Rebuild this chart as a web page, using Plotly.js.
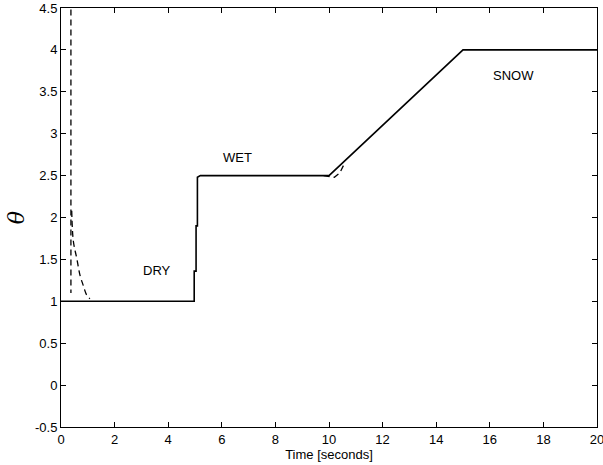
<!DOCTYPE html>
<html><head><meta charset="utf-8">
<script src="https://cdn.plot.ly/plotly-3.0.1.min.js"></script>
<style>html,body{margin:0;padding:0;background:#fff}</style>
</head><body><div id="chart" style="width:603px;height:465px"></div>
<script>
// Solid trace: actual theta
const solidX = [0, 4.97, 4.97, 5.04, 5.04, 5.09, 5.09, 5.2, 10, 15, 20];
const solidY = [1, 1, 1.36, 1.36, 1.9, 1.9, 2.48, 2.5, 2.5, 4, 4];
// Dashed trace: estimate (initial spike)
const dashVX = [0.37, 0.37];
const dashVY = [4.6, 1.1];
const dashCX = [0.40, 0.46, 0.59, 0.71, 0.83, 0.95, 1.08];
const dashCY = [2.08, 1.72, 1.51, 1.31, 1.19, 1.08, 1.03];
// Dashed trace near t = 10
const dash2X = [9.8, 10.2, 10.4, 10.6];
const dash2Y = [2.5, 2.48, 2.53, 2.66];
// Annotations
const labels = ["DRY", "WET", "SNOW"];
const labelX = [3.6, 6.6, 16.9];
const labelY = [1.37, 2.72, 3.7];
// Ticks
const xTicks = [0, 2, 4, 6, 8, 10, 12, 14, 16, 18, 20];
const yTicks = [-0.5, 0, 0.5, 1, 1.5, 2, 2.5, 3, 3.5, 4, 4.5];
const yTickText = ["-0.5", "0", "0.5", "1", "1.5", "2", "2.5", "3", "3.5", "4", "4.5"];

const dashStyle = {color: "#000", width: 1.3, dash: "6px,4px"};
const traces = [
  {x: solidX, y: solidY, mode: "lines", line: {color: "#000", width: 1.6}, hoverinfo: "skip"},
  {x: dashVX, y: dashVY, mode: "lines", line: dashStyle, hoverinfo: "skip"},
  {x: dashCX, y: dashCY, mode: "lines", line: Object.assign({shape: "spline"}, dashStyle), hoverinfo: "skip"},
  {x: dash2X, y: dash2Y, mode: "lines", line: dashStyle, hoverinfo: "skip"}
];

const axisCommon = {
  showgrid: false, zeroline: false, showline: true, linecolor: "#000", linewidth: 1,
  mirror: "ticks", ticks: "inside", ticklen: 5, tickcolor: "#000", tickwidth: 1,
  ticklabeloverflow: "allow",
  tickfont: {family: "Liberation Sans, Arial, sans-serif", size: 13, color: "#000"}
};

const layout = {
  width: 603, height: 465,
  margin: {l: 61, r: 6, t: 8, b: 38},
  paper_bgcolor: "#fff", plot_bgcolor: "#fff",
  showlegend: false,
  font: {family: "Liberation Sans, Arial, sans-serif", color: "#000"},
  xaxis: Object.assign({}, axisCommon, {
    range: [0, 20], tickvals: xTicks, ticktext: xTicks.map(String),
    title: {text: "Time [seconds]", font: {size: 13}, standoff: 2}
  }),
  yaxis: Object.assign({}, axisCommon, {
    range: [-0.5, 4.5], tickvals: yTicks, ticktext: yTickText,
    title: {text: "<i>θ</i>", font: {size: 22, family: "DejaVu Serif, serif"}, standoff: 4}
  }),
  annotations: labels.map((t, i) => ({
    x: labelX[i], y: labelY[i], text: t, showarrow: false,
    font: {size: 13, color: "#000"}
  }))
};

Plotly.newPlot("chart", traces, layout, {staticPlot: true});
</script></body></html>
